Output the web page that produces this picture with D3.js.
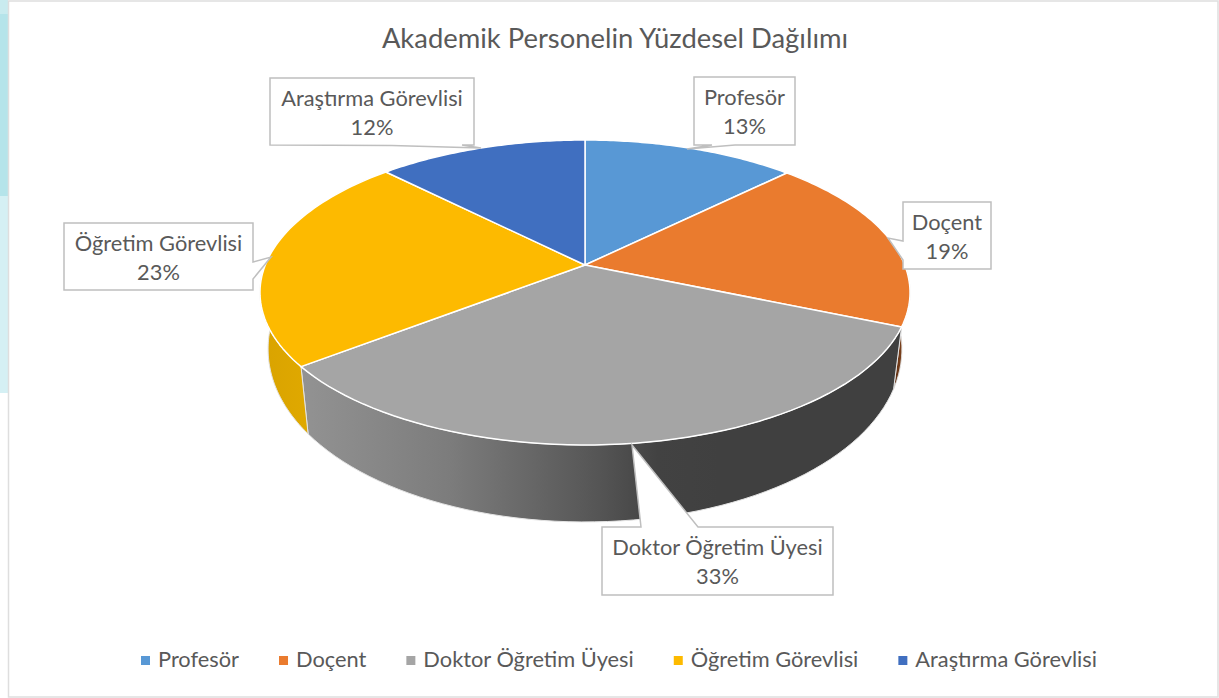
<!DOCTYPE html>
<html lang="tr">
<head>
<meta charset="utf-8">
<title>Akademik Personelin Yüzdesel Dağılımı</title>
<script src="https://cdn.jsdelivr.net/npm/d3@7"></script>
<style>
  html, body { margin: 0; padding: 0; background: #fff; }
  svg { display: block; }
  text { font-family: Lato, "Open Sans", sans-serif; fill: #595959; }
</style>
</head>
<body>
<div id="chart"></div>
<script>
const chartTitle = "Akademik Personelin Yüzdesel Dağılımı";
const categories = ["Profesör", "Doçent", "Doktor Öğretim Üyesi", "Öğretim Görevlisi", "Araştırma Görevlisi"];
const shares = [12.6, 18.8, 33.1, 23.1, 12.4];
const colors = ["#5898d5", "#ea7b2e", "#a5a5a5", "#fdba00", "#406fc0"];
const sideFills = ["#3f6f9c", "url(#sideOrange)", "url(#sideGray)", "url(#sideYellow)", "#2f5496"];

// Callout outlines, box corners with the pointer between them
const outlines = [
  [[694, 77], [795, 77], [795, 145], [735, 145], [687, 149], [712, 145], [694, 145]],
  [[903, 202], [991, 202], [991, 269], [903, 269], [903, 260], [888, 238], [903, 241]],
  [[602, 527], [641, 527], [632, 445], [698, 527], [833, 527], [833, 595], [602, 595]],
  [[64, 223], [253, 223], [253, 262], [271, 257], [253, 279], [253, 290], [64, 290]],
  [[270, 78], [474, 78], [474, 145], [462, 145], [481, 148], [392, 145.5], [270, 145]],
];
// Box left, right and top edges used for placing the two label lines
const boxes = [
  [694, 795, 77],
  [903, 991, 202],
  [602, 833, 527],
  [64, 253, 223],
  [270, 474, 78],
];

const width = 1219, height = 698;

const svg = d3.select("#chart").append("svg")
  .attr("width", width)
  .attr("height", height);

// Page strip left of the chart
[[0, 14, "#c9ebef"], [14, 196, "#b5e4ea"], [196, 393, "#d5f0f4"]].forEach(([y0, y1, c]) => {
  svg.append("rect").attr("x", 0).attr("y", y0).attr("width", 8).attr("height", y1 - y0).attr("fill", c);
});
svg.append("rect")
  .attr("x", 8.5).attr("y", 1)
  .attr("width", 1209.5).attr("height", 696)
  .attr("fill", "#fff")
  .attr("stroke", "#dedede")
  .attr("stroke-width", 1.5);

const defs = svg.append("defs");
function addGradient(id, x1, x2, stops) {
  const g = defs.append("linearGradient")
    .attr("id", id)
    .attr("gradientUnits", "userSpaceOnUse")
    .attr("x1", x1).attr("x2", x2).attr("y1", 0).attr("y2", 0);
  stops.forEach(([o, c]) => g.append("stop").attr("offset", o).attr("stop-color", c));
}
addGradient("sideGray", 305, 720, [[0, "#929292"], [0.35, "#7c7c7c"], [0.7, "#565656"], [0.85, "#424242"], [1, "#404040"]]);
addGradient("sideYellow", 262, 310, [[0, "#d9a300"], [1, "#e0a900"]]);
addGradient("sideOrange", 890, 905, [[0, "#4a2410"], [1, "#8a4a20"]]);

// Pie layout in clockwise angles from the far side of the disc
const pieData = d3.pie().sort(null).value((d) => d)(shares);

// Perspective of the tilted disc: the far half is squeezed, the near half stretched
const centerX = 585, centerY = 265, tilt = 0.1803;
const xScale = d3.scaleLinear().domain([-1, 1]).range([centerX - 319.7, centerX + 319.7]);
const yScale = d3.scaleLinear().domain([-1, 1]).range([centerY + 147.5, centerY - 147.5]);

function topPoint(a) {
  const w = 1 + tilt * Math.cos(a);
  return [xScale(Math.sin(a) / w), yScale(Math.cos(a) / w)];
}
function bottomPoint(a) {
  const p = topPoint(a);
  return [centerX + (p[0] - centerX) * 0.975, p[1] + 52 - 25 * Math.cos(a)];
}
function sampleAngles(a0, a1) {
  return d3.range(0, 61).map((i) => a0 + ((a1 - a0) * i) / 60);
}

const line = d3.line();

// Side wall: only the near half of the disc shows
const chart = svg.append("g");
chart.selectAll(".side")
  .data(pieData.filter((d) => d.endAngle > Math.PI / 2 && d.startAngle < Math.PI * 1.5))
  .join("path")
  .attr("class", "side")
  .attr("fill", (d) => sideFills[d.index])
  .attr("stroke", "#e4e4e4")
  .attr("stroke-width", 1)
  .attr("d", (d) => {
    const as = sampleAngles(Math.max(d.startAngle, Math.PI / 2), Math.min(d.endAngle, Math.PI * 1.5));
    return line(as.map(topPoint).concat(as.slice().reverse().map(bottomPoint))) + "Z";
  });

// Top face
chart.selectAll(".slice")
  .data(pieData)
  .join("path")
  .attr("class", "slice")
  .attr("fill", (d) => colors[d.index])
  .attr("stroke", "#fff")
  .attr("stroke-width", 1.5)
  .attr("stroke-linejoin", "round")
  .attr("d", (d) => line([[centerX, centerY]].concat(sampleAngles(d.startAngle, d.endAngle).map(topPoint))) + "Z");

// Title
svg.append("text")
  .attr("x", 615)
  .attr("y", 48)
  .attr("text-anchor", "middle")
  .attr("font-size", 27.4)
  .text(chartTitle);

// Data callouts
const callouts = svg.append("g");
const pct = d3.format(".0f");
categories.forEach((name, i) => {
  const [x0, x1, y0] = boxes[i];
  callouts.append("path")
    .attr("d", line(outlines[i]) + "Z")
    .attr("fill", "#fff")
    .attr("stroke", "#bfbfbf")
    .attr("stroke-width", 1.5);
  const mid = (x0 + x1) / 2;
  callouts.append("text")
    .attr("x", mid).attr("y", y0 + 28)
    .attr("text-anchor", "middle")
    .attr("font-size", 21.8)
    .text(name);
  callouts.append("text")
    .attr("x", mid).attr("y", y0 + 57)
    .attr("text-anchor", "middle")
    .attr("font-size", 21.8)
    .text(pct(shares[i]) + "%");
});

// Legend, laid out from the measured label widths
const legend = svg.append("g");
let legendX = 141;
categories.forEach((name, i) => {
  legend.append("rect")
    .attr("x", legendX).attr("y", 656)
    .attr("width", 9).attr("height", 9)
    .attr("fill", colors[i]);
  const t = legend.append("text")
    .attr("x", legendX + 17)
    .attr("y", 667)
    .attr("font-size", 21.8)
    .text(name);
  legendX += 17 + t.node().getComputedTextLength() + 40;
});
</script>
</body>
</html>
